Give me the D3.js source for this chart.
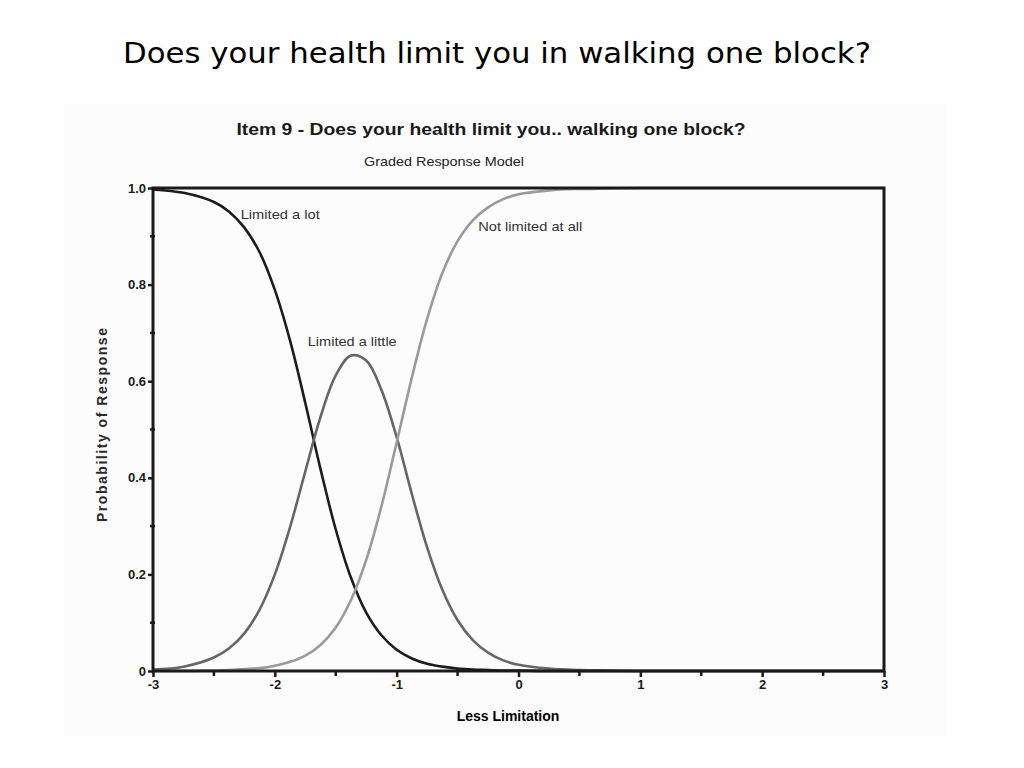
<!DOCTYPE html>
<html>
<head>
<meta charset="utf-8">
<script src="https://cdn.jsdelivr.net/npm/d3@7"></script>
<style>
  body { margin: 0; background: #fff; }
  svg { display: block; }
</style>
</head>
<body>
<div id="chart1"></div>
<script>
// theta values (x)
const theta = [-3, -2.75, -2.5, -2.375, -2.25, -2.125, -2, -1.875, -1.75, -1.625, -1.5, -1.375, -1.25,
    -1.125, -1, -0.875, -0.75, -0.625, -0.5, -0.375, -0.25, -0.125, 0, 0.25, 0.5, 0.75, 1, 1.5, 2, 2.5, 3];

const limitedALot = [0.997, 0.990, 0.971, 0.951, 0.918, 0.867, 0.789, 0.684, 0.555, 0.418, 0.293, 0.193, 0.121,
    0.074, 0.044, 0.026, 0.015, 0.009, 0.005, 0.003, 0.002, 0.001, 0.001, 0, 0, 0, 0, 0, 0, 0, 0];

const limitedALittle = [0.003, 0.009, 0.028, 0.047, 0.078, 0.127, 0.200, 0.298, 0.413, 0.526, 0.612, 0.653, 0.643,
    0.582, 0.484, 0.366, 0.256, 0.168, 0.105, 0.064, 0.038, 0.022, 0.013, 0.005, 0.002, 0.001, 0, 0, 0, 0, 0];

const notLimitedAtAll = [0, 0, 0.001, 0.002, 0.004, 0.006, 0.011, 0.019, 0.032, 0.054, 0.090, 0.147, 0.230,
    0.341, 0.473, 0.608, 0.729, 0.824, 0.890, 0.933, 0.960, 0.977, 0.987, 0.995, 0.998, 0.999, 1, 1, 1, 1, 1];

const seriesNames = ["Limited a lot", "Limited a little", "Not limited at all"];
const seriesValues = [limitedALot, limitedALittle, notLimitedAtAll];

// where each curve label sits, in data units
const labelTheta = [-2.28, -1.73, -0.33];
const labelProb = [0.935, 0.672, 0.91];

const xTickValues = [-3, -2, -1, 0, 1, 2, 3];
const xMinorValues = [-2.5, -1.5, -0.5, 0.5, 1.5, 2.5];
const yTickValues = [0, 0.2, 0.4, 0.6, 0.8, 1.0];
const yTickLabels = ["0", "0.2", "0.4", "0.6", "0.8", "1.0"];
const yMinorValues = [0.1, 0.3, 0.5, 0.7, 0.9];


let width = 1024;
let height = 768;

const plot = {
    "left": 153,
    "right": 884,
    "top": 188,
    "bottom": 671
}

const svg = d3.select("#chart1").append("svg").attr("width", width).attr("height", height);

// slide title
svg.append("text")
    .attr("x", 497)
    .attr("y", 63)
    .attr("text-anchor", "middle")
    .attr("font-family", "'Comic Sans MS', 'DejaVu Sans', sans-serif")
    .attr("font-size", 29)
    .attr("fill", "#000")
    .attr("textLength", 748)
    .attr("lengthAdjust", "spacingAndGlyphs")
    .text("Does your health limit you in walking one block?")

// faint background of the pasted figure
svg.append("rect")
    .attr("x", 64)
    .attr("y", 104)
    .attr("width", 882)
    .attr("height", 632)
    .attr("fill", "#fcfcfc")

svg.append("text")
    .attr("x", 491)
    .attr("y", 135)
    .attr("text-anchor", "middle")
    .attr("font-family", "'Liberation Sans', Arial, sans-serif")
    .attr("font-weight", "bold")
    .attr("font-size", 17)
    .attr("fill", "#1a1a1a")
    .attr("textLength", 509)
    .attr("lengthAdjust", "spacingAndGlyphs")
    .text("Item 9 - Does your health limit you.. walking one block?")

svg.append("text")
    .attr("x", 444)
    .attr("y", 166)
    .attr("text-anchor", "middle")
    .attr("font-family", "'Liberation Sans', Arial, sans-serif")
    .attr("font-size", 13)
    .attr("fill", "#222")
    .attr("textLength", 160)
    .attr("lengthAdjust", "spacingAndGlyphs")
    .text("Graded Response Model")


const xScale = d3.scaleLinear()
    .domain([-3, 3])
    .range([plot.left, plot.right])

const yScale = d3.scaleLinear()
    .domain([0, 1])
    .range([plot.bottom, plot.top]);

const g = svg.append("g");

// curves
const lineColors = ["#1c1c1c", "#666666", "#9a9a9a"];

g.selectAll("path.curve")
    .data(seriesValues)
    .join("path")
    .attr("class", "curve")
    .attr("fill", "none")
    .attr("stroke", (d, i) => lineColors[i])
    .attr("stroke-width", 2.6)
    .attr("d", d => d3.line()
        .curve(d3.curveCatmullRom.alpha(0.5))
        .x((v, i) => xScale(theta[i]))
        .y(v => yScale(v))
        (d))

// frame
g.append("rect")
    .attr("x", xScale(-3))
    .attr("y", yScale(1))
    .attr("width", xScale(3) - xScale(-3))
    .attr("height", yScale(0) - yScale(1))
    .attr("fill", "none")
    .attr("stroke", "#1a1a1a")
    .attr("stroke-width", 3)

const tickFont = "'Liberation Sans', Arial, sans-serif";

let yAxis = d3.axisLeft(yScale)
    .tickValues(yTickValues)
    .tickFormat((d, i) => yTickLabels[i])
    .tickSize(5)
    .tickPadding(2);

let xAxis = d3.axisBottom(xScale)
    .tickValues(xTickValues)
    .tickFormat(d => d)
    .tickSize(6)
    .tickPadding(3);

const yG = g.append("g")
    .attr("class", "y-axis")
    .attr("transform", `translate(${plot.left},0)`)
    .call(yAxis);

const xG = g.append("g")
    .attr("class", "x-axis")
    .attr("transform", `translate(0,${plot.bottom})`)
    .call(xAxis);

[yG, xG].forEach(a => {
    a.select(".domain").remove();
    a.selectAll(".tick line").attr("stroke", "#1a1a1a").attr("stroke-width", 2.5);
    a.selectAll(".tick text")
        .attr("font-family", tickFont)
        .attr("font-weight", "bold")
        .attr("font-size", 13)
        .attr("fill", "#1a1a1a");
});

// minor ticks
g.selectAll("line.yMinor")
    .data(yMinorValues)
    .join("line")
    .attr("class", "yMinor")
    .attr("x1", plot.left - 3)
    .attr("x2", plot.left + 2)
    .attr("y1", d => yScale(d))
    .attr("y2", d => yScale(d))
    .attr("stroke", "#1a1a1a")
    .attr("stroke-width", 2.5)

g.selectAll("line.xMinor")
    .data(xMinorValues)
    .join("line")
    .attr("class", "xMinor")
    .attr("x1", d => xScale(d))
    .attr("x2", d => xScale(d))
    .attr("y1", plot.bottom)
    .attr("y2", plot.bottom + 5)
    .attr("stroke", "#1a1a1a")
    .attr("stroke-width", 2.5)

// curve labels
g.selectAll("text.curveLabel")
    .data(seriesNames)
    .join("text")
    .attr("class", "curveLabel")
    .attr("x", (d, i) => xScale(labelTheta[i]))
    .attr("y", (d, i) => yScale(labelProb[i]))
    .attr("font-family", tickFont)
    .attr("font-size", 13)
    .attr("fill", "#333")
    .attr("textLength", (d, i) => [79, 89, 104][i])
    .attr("lengthAdjust", "spacingAndGlyphs")
    .text(d => d)

// axis titles
svg.append("text")
    .attr("x", 508)
    .attr("y", 721)
    .attr("text-anchor", "middle")
    .attr("font-family", tickFont)
    .attr("font-weight", "bold")
    .attr("font-size", 14)
    .attr("fill", "#000")
    .text("Less Limitation")

svg.append("text")
    .attr("transform", "translate(107,425) rotate(-90)")
    .attr("text-anchor", "middle")
    .attr("font-family", tickFont)
    .attr("font-weight", "bold")
    .attr("font-size", 14)
    .attr("fill", "#2a2a2a")
    .attr("textLength", 194)
    .attr("lengthAdjust", "spacing")
    .text("Probability of Response")
</script>
</body>
</html>
